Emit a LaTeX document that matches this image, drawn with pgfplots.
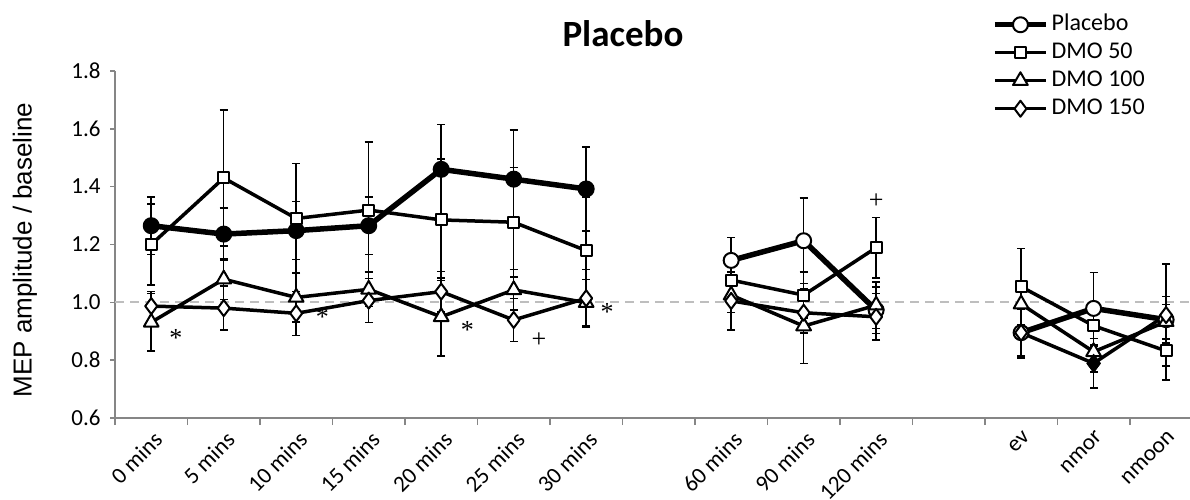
\documentclass[border=0pt]{standalone}
\usepackage{pgfplots}
\usepackage{pgfplotstable}
\pgfplotsset{compat=1.18}
\usepackage{fontspec}
\setmainfont{Carlito}
\newfontfamily\arialfont{Liberation Sans}
\newfontfamily\serifont{Liberation Serif}
\definecolor{axisgray}{RGB}{134,134,134}
\definecolor{refgray}{RGB}{190,190,190}

\pgfplotstableread{
x y e
0 1.265 0.100
1 1.236 0.090
2 1.248 0.100
3 1.265 0.100
4 1.460 0.155
5 1.426 0.170
6 1.392 0.145
}\placeboA
\pgfplotstableread{
x y e
8 1.145 0.080
9 1.213 0.147
10 0.973 0.080
11 nan nan
12 0.895 0.080
13 0.979 0.125
14 0.940 0.080
}\placeboB
\pgfplotstableread{
x y e
0 1.200 0.140
1 1.430 0.235
2 1.290 0.190
3 1.319 0.236
4 1.285 0.210
5 1.277 0.190
6 1.179 0.185
7 nan nan
8 1.077 0.080
9 1.025 0.080
10 1.189 0.105
11 nan nan
12 1.054 0.133
13 0.919 0.070
14 0.832 0.100
}\dmoA
\pgfplotstableread{
x y e
0 0.931 0.100
1 1.080 0.070
2 1.017 0.085
3 1.045 0.060
4 0.950 0.135
5 1.043 0.070
6 0.999 0.080
7 nan nan
8 1.025 0.060
9 0.918 0.130
10 0.990 0.080
11 nan nan
12 0.994 0.080
13 0.829 0.070
14 0.933 0.060
}\dmoB
\pgfplotstableread{
x y e
0 0.987 0.050
1 0.980 0.076
2 0.962 0.076
3 1.006 0.076
4 1.037 0.070
5 0.939 0.075
6 1.014 0.100
7 nan nan
8 1.005 0.100
9 0.964 0.070
10 0.950 0.080
11 nan nan
12 0.895 0.087
13 0.789 0.086
14 0.956 0.177
}\dmoC

\begin{document}
\begin{tikzpicture}
\useasboundingbox (0pt,0pt) rectangle (1190pt,499pt);
\begin{axis}[
  at={(115pt,81pt)}, anchor=south west,
  scale only axis, width=1075pt, height=347pt,
  xmin=-0.5, xmax=14.33, ymin=0.6, ymax=1.8,
  axis x line*=bottom, axis y line*=left,
  axis line style={draw=axisgray, line width=1.5pt},
  xtick={0,1,2,3,4,5,6,8,9,10,12,13,14},
  xticklabels={0 mins,5 mins,10 mins,15 mins,20 mins,25 mins,30 mins,60 mins,90 mins,120 mins,ev,nmor,nmoon},
  minor xtick={-0.5,0.5,1.5,2.5,3.5,4.5,5.5,6.5,7.5,8.5,9.5,10.5,11.5,12.5,13.5},
  ytick={0.6,0.8,1.0,1.2,1.4,1.6,1.8},
  tick align=outside,
  major tick length=5pt, minor tick length=7pt,
  major x tick style={draw=none},
  minor x tick style={draw=axisgray, line width=1.5pt},
  ytick style={draw=axisgray, line width=1.5pt},
  x tick label style={rotate=45, anchor=north east, inner sep=2pt, yshift=-4pt, xshift=-2pt, font=\fontsize{23}{23}\selectfont},
  y tick label style={font=\fontsize{23}{23}\selectfont, xshift=-6pt},
  yticklabel style={/pgf/number format/.cd, fixed, fixed zerofill, precision=1},
  /pgf/number format/assume math mode=true,
  unbounded coords=jump,
  clip=false,
  error bars/y dir=both, error bars/y explicit,
  error bars/error mark=-,
  error bars/error bar style={line width=1.5pt, solid, black},
  error bars/error mark options={rotate=90, line width=1.5pt, black, mark size=4pt},
  legend style={at={(axis description cs:0.813,1.18)}, anchor=north west, draw=none, fill=none,
    font=\fontsize{24}{29}\selectfont, cells={anchor=west},
    nodes={text height=17pt, text depth=5pt, inner sep=3pt}},
  legend image code/.code={
    \draw[#1, mark repeat=2, mark phase=2] plot coordinates {(0pt,0pt) (25.5pt,0pt) (51pt,0pt)};
  },
]
\addplot[refgray, dashed, line width=2pt, dash pattern=on 9pt off 6pt, forget plot, no marks]
  coordinates {(-0.5,1) (14.33,1)};

\addplot[black, line width=5.5pt, line join=round, mark=*, mark size=7.5pt,
  mark options={solid, fill=black, line width=2pt}, forget plot]
  table[x=x, y=y, y error=e] {\placeboA};
\addplot[black, line width=5.5pt, line join=round, mark=*, mark size=7.5pt,
  mark options={solid, fill=white, line width=2pt}]
  table[x=x, y=y, y error=e] {\placeboB};
\addlegendentry{Placebo}
\addplot[black, line width=3.5pt, line join=round, mark=square*, mark size=5.5pt,
  mark options={solid, fill=white, line width=2pt}]
  table[x=x, y=y, y error=e] {\dmoA};
\addlegendentry{DMO 50}
\addplot[black, line width=3.5pt, line join=round, mark=triangle*, mark size=8.5pt,
  mark options={solid, fill=white, line width=2pt}]
  table[x=x, y=y, y error=e] {\dmoB};
\addlegendentry{DMO 100}
\addplot[black, line width=3.5pt, line join=round, mark=diamond*, mark size=8pt,
  mark options={solid, fill=white, line width=2pt}]
  table[x=x, y=y, y error=e] {\dmoC};
\addlegendentry{DMO 150}
\addplot[only marks, mark=diamond*, mark size=8pt, mark options={fill=black, line width=2pt}, forget plot]
  coordinates {(13,0.789)};

\node[font=\serifont\fontsize{26}{26}\selectfont] at (axis cs:0.34,0.877) {*};
\node[font=\serifont\fontsize{26}{26}\selectfont] at (axis cs:2.36,0.950) {*};
\node[font=\serifont\fontsize{26}{26}\selectfont] at (axis cs:4.36,0.904) {*};
\node[font=\serifont\fontsize{26}{26}\selectfont] at (axis cs:6.29,0.967) {*};
\node[font=\serifont\fontsize{26}{26}\selectfont] at (axis cs:5.35,0.870) {+};
\node[font=\serifont\fontsize{26}{26}\selectfont] at (axis cs:10,1.350) {+};
\end{axis}
\node[font=\bfseries\fontsize{37}{37}\selectfont, anchor=base] at (623pt,452pt) {Placebo};
\node[rotate=90, font=\arialfont\fontsize{26}{26}\selectfont] at (25pt,249pt) {MEP amplitude / baseline};
\end{tikzpicture}
\end{document}
